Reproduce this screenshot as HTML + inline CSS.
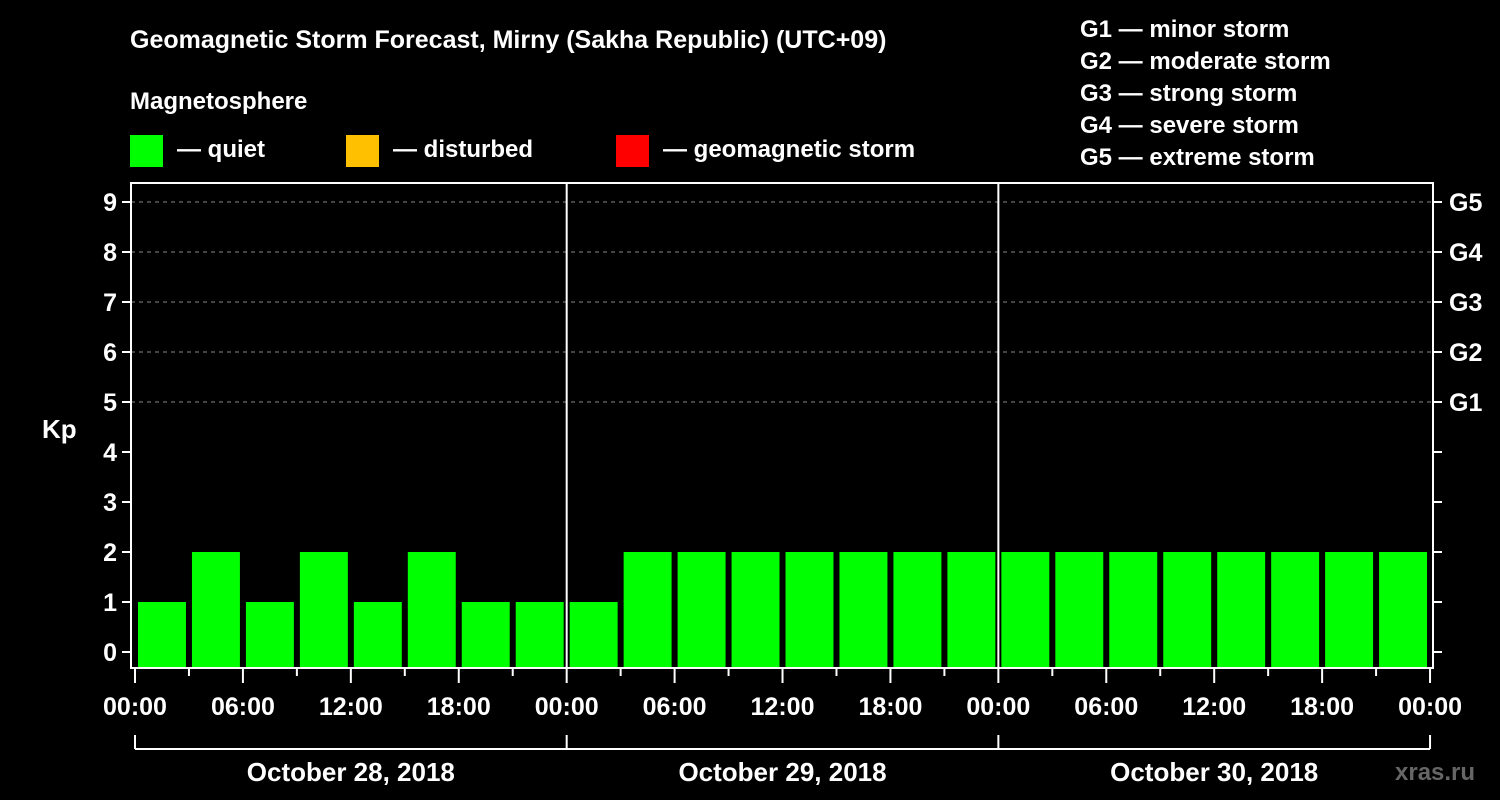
<!DOCTYPE html>
<html><head><meta charset="utf-8"><style>
html,body{margin:0;padding:0;background:#000;}
svg{display:block;font-family:"Liberation Sans",Arial,sans-serif;font-weight:bold;}
</style></head><body>
<svg id="c" width="1500" height="800" viewBox="0 0 1500 800">
<text x="130" y="48" fill="#fff" font-size="25">Geomagnetic Storm Forecast, Mirny (Sakha Republic) (UTC+09)</text>
<text x="130" y="109" fill="#fff" font-size="24">Magnetosphere</text>
<g><rect x="130" y="135" width="33" height="32" fill="#00ff00"/><text x="177" y="157" fill="#fff" font-size="24">— quiet</text></g>
<g><rect x="346" y="135" width="33" height="32" fill="#ffc000"/><text x="393" y="157" fill="#fff" font-size="24">— disturbed</text></g>
<g><rect x="616" y="135" width="33" height="32" fill="#ff0000"/><text x="663" y="157" fill="#fff" font-size="24">— geomagnetic storm</text></g>
<g fill="#fff" font-size="24">
<text x="1080" y="37">G1 — minor storm</text>
<text x="1080" y="69">G2 — moderate storm</text>
<text x="1080" y="101">G3 — strong storm</text>
<text x="1080" y="133">G4 — severe storm</text>
<text x="1080" y="165">G5 — extreme storm</text>
</g>
<text x="42" y="438" fill="#fff" font-size="26">Kp</text>
<text x="1395" y="780" fill="#666" font-size="24">xras.ru</text>
<g id="plot"></g>
</svg>
<script>
const kpValues=[1,2,1,2,1,2,1,1, 1,2,2,2,2,2,2,2, 2,2,2,2,2,2,2,2];
const yTicks=[0,1,2,3,4,5,6,7,8,9];
const gLabels=["G1","G2","G3","G4","G5"];
const hourLabels=["00:00","06:00","12:00","18:00","00:00","06:00","12:00","18:00","00:00","06:00","12:00","18:00","00:00"];
const dayLabels=["October 28, 2018","October 29, 2018","October 30, 2018"];
const NS="http://www.w3.org/2000/svg";
const g=document.getElementById('plot');
const x0=135,slot=53.96,y0=652,unit=50,L=131,R=1433,T=183,B=668;
const X=i=>x0+i*slot, Y=v=>y0-v*unit;
function el(t,a,txt){const e=document.createElementNS(NS,t);for(const k in a)e.setAttribute(k,a[k]);if(txt!=null)e.textContent=txt;g.appendChild(e);return e;}
function color(v){return v>=5?"#ff0000":v>=4?"#ffc000":"#00ff00";}
// grid
for(let v=5;v<=9;v++){const e=el('line',{x1:L,x2:R,y1:Y(v),y2:Y(v),stroke:"#888","stroke-dasharray":"4,4","stroke-width":1});

}
// bars
kpValues.forEach((v,i)=>{const e=el('rect',{x:X(i)+3,y:Y(v),width:slot-6,height:B-Y(v),fill:color(v)});

});
// day dividers
[1,2].forEach(d=>{const e=el('line',{x1:X(d*8),x2:X(d*8),y1:T,y2:B,stroke:"#fff","stroke-width":2});

});
// frame
const f=el('rect',{x:L,y:T,width:R-L,height:B-T,fill:"none",stroke:"#fff","stroke-width":2});


// y ticks
yTicks.forEach(v=>{el('line',{x1:L-9,x2:L,y1:Y(v),y2:Y(v),stroke:"#fff","stroke-width":2});
el('line',{x1:R,x2:R+9,y1:Y(v),y2:Y(v),stroke:"#fff","stroke-width":2});
const t=el('text',{x:L-14,y:Y(v)+9,fill:"#fff","font-size":25,"text-anchor":"end"},v);

});
gLabels.forEach((s,i)=>{const t=el('text',{x:1449,y:Y(5+i)+9,fill:"#fff","font-size":25},s);

});
// x ticks
for(let i=0;i<=24;i++){const maj=i%2==0;el('line',{x1:X(i),x2:X(i),y1:B,y2:maj?683:676,stroke:"#fff","stroke-width":2});}
hourLabels.forEach((s,i)=>{const t=el('text',{x:X(i*2),y:715,fill:"#fff","font-size":25,"text-anchor":"middle"},s);

});
// day brackets
el('line',{x1:X(0),x2:X(24),y1:749,y2:749,stroke:"#fff","stroke-width":2});
for(let d=0;d<=3;d++)el('line',{x1:X(d*8),x2:X(d*8),y1:735,y2:749,stroke:"#fff","stroke-width":2});
dayLabels.forEach((s,d)=>{const t=el('text',{x:(X(d*8)+X(d*8+8))/2,y:781,fill:"#fff","font-size":26,"text-anchor":"middle"},s);

});
</script>
</body></html>
